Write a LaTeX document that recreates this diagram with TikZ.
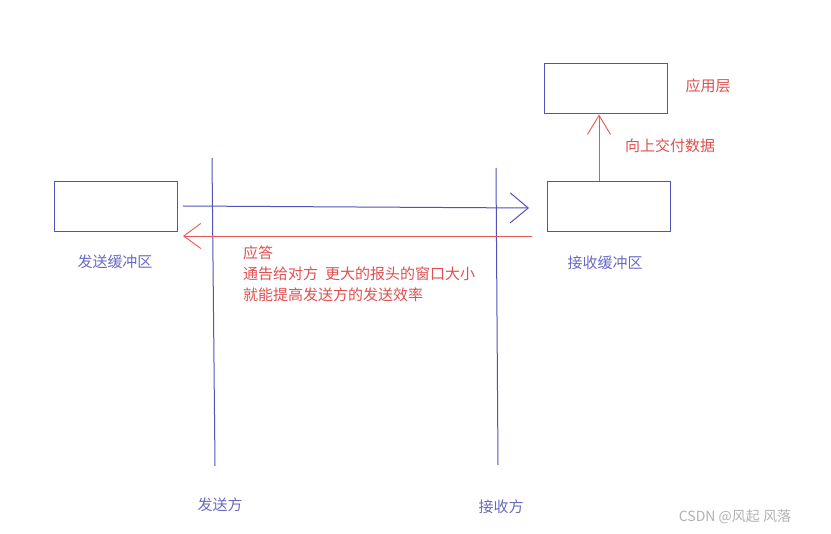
\documentclass[tikz,border=0pt]{standalone}
\usepackage{fontspec}
\newfontfamily\cjk{Noto Sans CJK SC}
\usetikzlibrary{arrows.meta}
\definecolor{lblue}{HTML}{5252B8}
\definecolor{tblue}{HTML}{6A6AC4}
\definecolor{lred}{HTML}{E85555}
\definecolor{tred}{HTML}{E05050}
\begin{document}
\begin{tikzpicture}[x=1pt,y=-1pt,
  buf/.style={draw=lblue,line width=1pt,minimum width=123pt,minimum height=50pt,inner sep=0pt},
  btext/.style={text=tblue,font=\cjk\fontsize{15}{17}\selectfont,inner sep=0pt},
  rtext/.style={text=tred,font=\cjk\fontsize{15}{21}\selectfont,inner sep=0pt},
  bline/.style={draw=lblue,line width=1pt},
  rline/.style={draw=lred,line width=0.9pt},
]
\useasboundingbox (0,0) rectangle (831,534);
\fill[white] (0,0) rectangle (831,534);
% boxes
\node[buf] (sbuf) at (115.5,206.5) {};
\node[buf] (rbuf) at (608.5,207) {};
\node[buf] (app) at (606,89) {};
% labels
\node[btext] (sbufl) at (115,262) {发送缓冲区};
\node[btext] (rbufl) at (605,263) {接收缓冲区};
\node[btext] (sender) at (220,505) {发送方};
\node[btext] (receiver) at (501,507) {接收方};
\node[rtext] (appl) at (708,86) {应用层};
\node[rtext] (upl) at (670,146) {向上交付数据};
\node[rtext,anchor=north west,align=left] (note) at (243,246) {应答\\通告给对方\hspace{7pt}更大的报头的窗口大小\\就能提高发送方的发送效率};
% time lines
\coordinate (stop) at (212,158);
\coordinate (sbot) at (215,466);
\coordinate (rtop) at (496,168);
\coordinate (rbot) at (498,465);
\draw[bline] (stop) -- (sbot);
\draw[bline] (rtop) -- (rbot);
% data arrow
\coordinate (dstart) at (183,206);
\coordinate (dend) at (529,208);
\draw[bline,-{Straight Barb[length=18pt,width=30pt,line width=1pt]}] (dstart) -- (dend);
% ack arrow
\coordinate (astart) at (532,236);
\coordinate (aend) at (183,236);
\draw[rline,-{Straight Barb[length=17pt,width=25pt,line width=0.9pt]}] (astart) -- (aend);
% deliver up
\coordinate (upstart) at (599,181);
\draw[rline,-{Straight Barb[length=19pt,width=23pt,line width=0.9pt]}] (upstart) -- (upstart |- app.south);
% watermark
\node[text=gray!60,font=\fontsize{14}{16}\selectfont\cjk,inner sep=0pt] (wm) at (735,517) {CSDN @风起 风落};
\end{tikzpicture}
\end{document}
